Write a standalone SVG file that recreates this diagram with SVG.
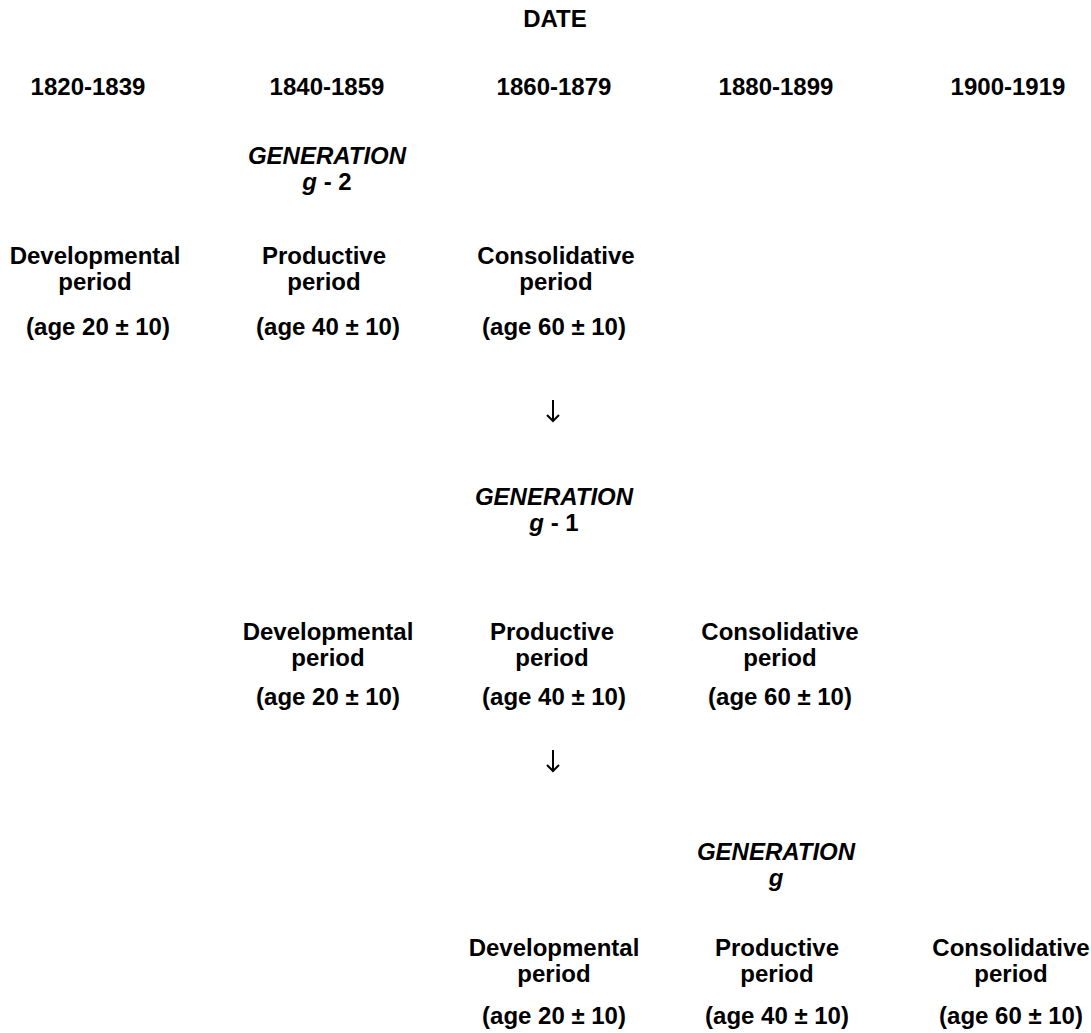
<svg xmlns="http://www.w3.org/2000/svg" width="1091" height="1033" viewBox="0 0 1091 1033">
<style>
text{font-family:"Liberation Sans",Arial,sans-serif;font-weight:bold;font-size:24px;fill:#000;text-anchor:middle}
.it{font-style:italic}
.arr{fill:none;stroke:#000;stroke-width:2}
</style>
<rect width="1091" height="1033" fill="#fff"/>
<g id="header">
<text x="555" y="27">DATE</text>
<text x="88" y="95">1820-1839</text>
<text x="327" y="95">1840-1859</text>
<text x="554" y="95">1860-1879</text>
<text x="776" y="95">1880-1899</text>
<text x="1008" y="95">1900-1919</text>
</g>
<g id="gen-g-2">
<text x="327" y="164" class="it">GENERATION</text>
<text x="327" y="190"><tspan class="it">g</tspan> - 2</text>
</g>
<g id="g2-dev"><text x="95" y="264">Developmental</text><text x="95" y="290">period</text><text x="98" y="335">(age 20 ± 10)</text></g>
<g id="g2-prod"><text x="324" y="264">Productive</text><text x="324" y="290">period</text><text x="328" y="335">(age 40 ± 10)</text></g>
<g id="g2-cons"><text x="556" y="264">Consolidative</text><text x="556" y="290">period</text><text x="554" y="335">(age 60 ± 10)</text></g>
<g id="gen-g-1">
<text x="554" y="505" class="it">GENERATION</text>
<text x="554" y="531"><tspan class="it">g</tspan> - 1</text>
</g>
<g id="g1-dev"><text x="328" y="640">Developmental</text><text x="328" y="666">period</text><text x="328" y="705">(age 20 ± 10)</text></g>
<g id="g1-prod"><text x="552" y="640">Productive</text><text x="552" y="666">period</text><text x="554" y="705">(age 40 ± 10)</text></g>
<g id="g1-cons"><text x="780" y="640">Consolidative</text><text x="780" y="666">period</text><text x="780" y="705">(age 60 ± 10)</text></g>
<g id="gen-g">
<text x="776" y="860" class="it">GENERATION</text>
<text x="776" y="886" class="it">g</text>
</g>
<g id="g0-dev"><text x="554" y="956">Developmental</text><text x="554" y="982">period</text><text x="554" y="1024">(age 20 ± 10)</text></g>
<g id="g0-prod"><text x="777" y="956">Productive</text><text x="777" y="982">period</text><text x="777" y="1024">(age 40 ± 10)</text></g>
<g id="g0-cons"><text x="1011" y="956">Consolidative</text><text x="1011" y="982">period</text><text x="1011" y="1024">(age 60 ± 10)</text></g>
<g id="connectors">
<path class="arr" d="M553 400V421M547 415L553 421L559 415"/>
<path class="arr" d="M553 750V771M547 765L553 771L559 765"/>
</g>
</svg>
